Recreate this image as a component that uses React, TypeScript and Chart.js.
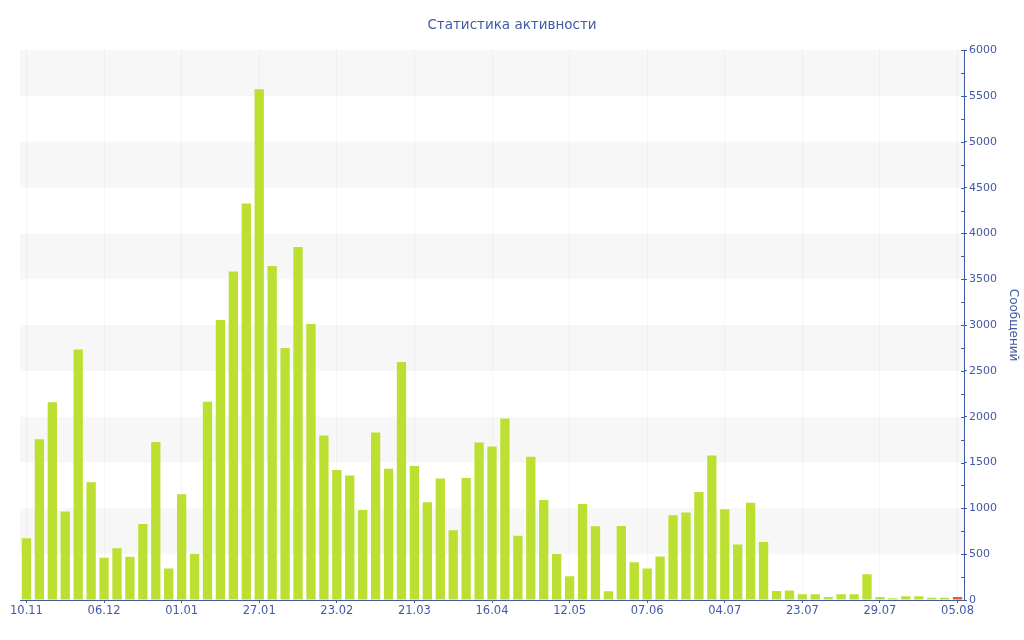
import React, { useEffect, useRef } from "react";
import { Chart, registerables } from "chart.js";

Chart.register(...registerables);

const title = "Статистика активности";
const yTitle = "Сообщений";
const tickLabels = ["10.11", "06.12", "01.01", "27.01", "23.02", "21.03", "16.04", "12.05", "07.06", "04.07", "23.07", "29.07", "05.08"];
const tickEvery = 6;
const messages = [
  673, 1753, 2158, 967, 2735, 1284, 462, 564, 473, 829,
  1724, 345, 1153, 502, 2164, 3055, 3585, 4327, 5575, 3644,
  2749, 3851, 3011, 1796, 1418, 1360, 982, 1829, 1433, 2596,
  1462, 1066, 1327, 760, 1331, 1720, 1676, 1982, 702, 1564,
  1091, 502, 258, 1047, 804, 95, 807, 411, 345, 476,
  924, 956, 1178, 1578, 989, 607, 1062, 633, 98, 105,
  62, 62, 33, 62, 62, 280, 33, 18, 40, 40,
  25, 25, 33,
];
const yMin = 0;
const yMax = 6000;
const yStep = 500;
const yMinorStep = 250;

const BLUE = "#4259a3";
const GREEN = "#bce031";
const RED = "#e8592a";
const BAND = "#f7f7f7";

const categories = messages.map((_, i) => (i % tickEvery === 0 ? tickLabels[i / tickEvery] : ""));

const bandsPlugin = {
  id: "bands",
  beforeDraw(chart: any) {
    const { ctx, chartArea, scales } = chart;
    const y = scales.y;
    ctx.save();
    ctx.fillStyle = BAND;
    for (let v = yMin + yStep; v < yMax; v += yStep * 2) {
      const top = y.getPixelForValue(v + yStep);
      const bottom = y.getPixelForValue(v);
      ctx.fillRect(chartArea.left, top, chartArea.right - chartArea.left, bottom - top);
    }
    ctx.restore();
  },
  afterDraw(chart: any) {
    const { ctx, chartArea, scales } = chart;
    const y = scales.y;
    ctx.save();
    ctx.strokeStyle = BLUE;
    ctx.lineWidth = 1;
    for (let v = yMin; v <= yMax; v += yMinorStep) {
      const py = Math.round(y.getPixelForValue(v)) + 0.5;
      ctx.beginPath();
      ctx.moveTo(chartArea.right - 3, py);
      ctx.lineTo(chartArea.right, py);
      ctx.stroke();
    }
    ctx.restore();
  },
};

export default function App() {
  const ref = useRef<HTMLCanvasElement | null>(null);

  useEffect(() => {
    if (!ref.current) return;
    const last = messages.length - 1;
    const chart = new Chart(ref.current, {
      type: "bar",
      data: {
        labels: categories,
        datasets: [
          {
            label: yTitle,
            data: messages,
            backgroundColor: (c: any) => (c.dataIndex === last ? RED : GREEN),
            barPercentage: 0.72,
            categoryPercentage: 1,
            yAxisID: "y",
          },
        ],
      },
      plugins: [bandsPlugin],
      options: {
        animation: false,
        responsive: true,
        maintainAspectRatio: false,
        layout: { padding: { left: 0, top: 2, right: 0, bottom: 0 } },
        plugins: {
          legend: { display: false },
          tooltip: { enabled: false },
          title: {
            display: true,
            text: title,
            color: BLUE,
            font: { family: "DejaVu Sans", size: 13.5, weight: "normal" },
            padding: { top: 15, bottom: 17 },
          },
        },
        scales: {
          x: {
            offset: true,
            grid: {
              color: "rgba(0,0,0,0.035)",
              tickColor: BLUE,
              tickLength: 3,
              offset: false,
            },
            border: { color: BLUE, width: 1 },
            ticks: {
              autoSkip: false,
              maxRotation: 0,
              minRotation: 0,
              padding: 1,
              color: BLUE,
              font: { family: "DejaVu Sans", size: 11.5 },
              callback: function (this: any, value: any) {
                const l = this.getLabelForValue(value);
                return l === "" ? null : l;
              },
            },
            afterFit: (s: any) => {
              s.height = 40;
            },
          },
          spacer: {
            type: "linear",
            position: "left",
            display: true,
            grid: { display: false },
            border: { display: false },
            ticks: { display: false },
            afterFit: (s: any) => {
              s.width = 20;
            },
          },
          y: {
            position: "right",
            min: yMin,
            max: yMax,
            grid: {
              drawOnChartArea: false,
              tickColor: BLUE,
              tickLength: 3,
            },
            border: { color: BLUE, width: 1 },
            ticks: {
              stepSize: yStep,
              padding: 2,
              color: BLUE,
              font: { family: "DejaVu Sans", size: 11 },
              callback: (v: any) => String(v),
            },
            title: {
              display: true,
              text: yTitle,
              color: BLUE,
              font: { family: "DejaVu Sans", size: 12 },
              padding: { top: 4, bottom: 0 },
            },
            afterFit: (s: any) => {
              s.width = 60;
            },
          },
        },
      },
    });
    return () => chart.destroy();
  }, []);

  return (
    <div style={{ position: "fixed", left: 0, top: 0, width: 1024, height: 640, background: "#fff" }}>
      <canvas ref={ref} />
    </div>
  );
}
